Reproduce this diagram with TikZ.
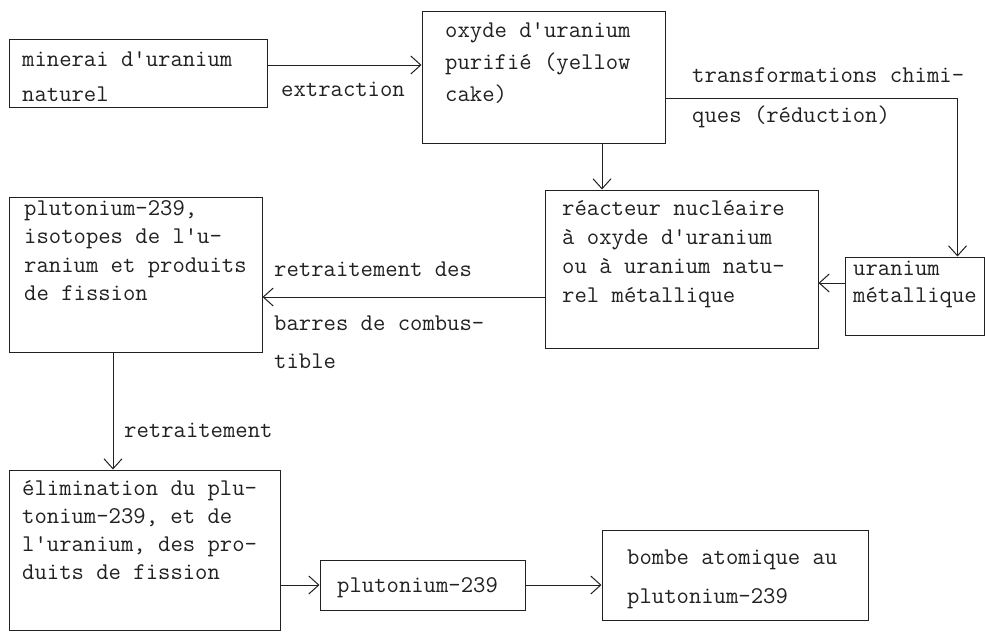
\documentclass[tikz,border=0pt]{standalone}
\usepackage{fontspec}
\usetikzlibrary{arrows.meta}
\definecolor{ink}{gray}{0.13}
\begin{document}
\begin{tikzpicture}[x=1pt,y=-1pt,
  box/.style={draw=ink, line width=1pt, inner sep=0pt},
  txt/.style={font=\ttfamily\fontsize{24}{#1}\selectfont, text=ink, inner sep=0pt, anchor=base west, align=left},
  txt/.default=29,
  arr/.style={draw=ink, line width=1pt, -{Straight Barb[length=10pt,width=18pt]}},
]
\useasboundingbox[fill=white] (0,0) rectangle (985,637);
% boxes
\node[box, minimum width=258pt, minimum height=68pt]  (A) at (138,73) {};
\node[box, minimum width=243pt, minimum height=132pt] (B) at (543.5,77) {};
\node[box, minimum width=273pt, minimum height=158pt] (R) at (681.5,269) {};
\node[box, minimum width=139pt, minimum height=78pt]  (U) at (914.5,296) {};
\node[box, minimum width=253pt, minimum height=155pt] (P) at (135.5,274.5) {};
\node[box, minimum width=271pt, minimum height=160pt] (E) at (144.5,550) {};
\node[box, minimum width=205pt, minimum height=50pt]  (S) at (422.5,585) {};
\node[box, minimum width=266pt, minimum height=90pt]  (W) at (735,575) {};
% texts (anchor = baseline of the last line)
\node[txt=35] (tA) at (22,101) {minerai d'uranium\\naturel};
\node[txt=32] (tB) at (445,101) {oxyde d'uranium\\purifié (yellow\\cake)};
\node[txt=29] (tR) at (562,302) {réacteur nucléaire\\à oxyde d'uranium\\ou à uranium natu-\\rel métallique};
\node[txt=27] (tU) at (853,302) {uranium\\métallique};
\node[txt=28.5] (tP) at (24,300.5) {plutonium-239,\\isotopes de l'u-\\ranium et produits\\de fission};
\node[txt=28] (tE) at (22,579) {élimination du plu-\\tonium-239, et de\\l'uranium, des pro-\\duits de fission};
\node[txt] (tS) at (337,592) {plutonium-239};
\node[txt=39] (tW) at (627,603) {bombe atomique au\\plutonium-239};
% labels
\node[txt] (lExt) at (281,96) {extraction};
\node[txt=40] (lT) at (692,122) {transformations chimi-\\ques (réduction)};
\node[txt] (lR1) at (274,276) {retraitement des};
\node[txt=38] (lR2) at (274,368) {barres de combus-\\tible};
\node[txt] (lRet) at (124,437) {retraitement};
% connectors
\draw[arr] ([yshift=8pt]A.east) -- ([yshift=8pt]A.east -| B.west);
\draw[arr] ([yshift=-21pt]B.east) -| ([xshift=-27pt]U.north east);
\draw[arr] ([xshift=58.5pt]B.south) -- ([xshift=58.5pt]B.south |- R.north);
\draw[arr] ([yshift=13pt]U.west) -- ([yshift=13pt]U.west -| R.east);
\draw[arr] ([yshift=-28pt]R.west) -- ([yshift=-28pt]R.west -| P.east);
\draw[arr] ([xshift=-22.5pt]P.south) -- ([xshift=-22.5pt]P.south |- E.north);
\draw[arr] (S.west -| E.east) -- (S.west);
\draw[arr] (S.east) -- (S.east -| W.west);
\end{tikzpicture}
\end{document}
